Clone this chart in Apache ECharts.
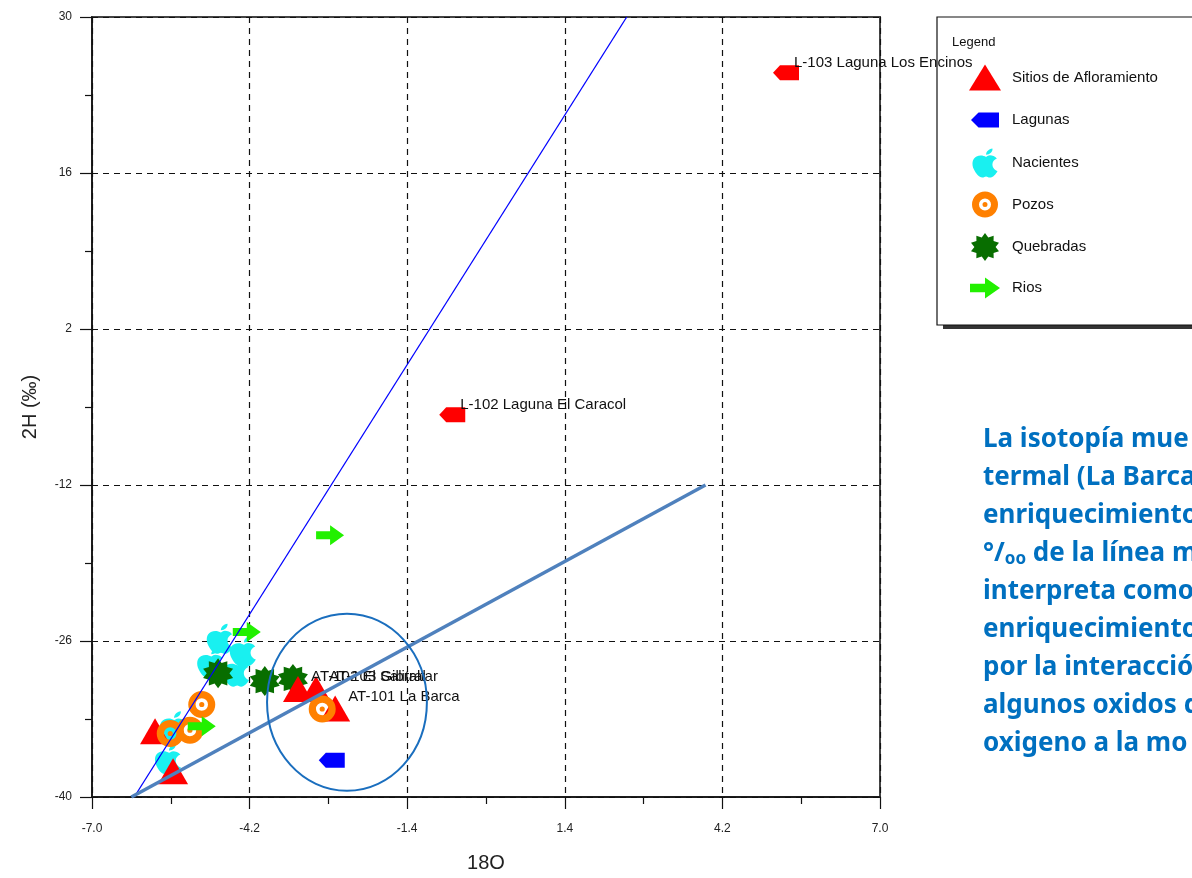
<!DOCTYPE html>
<html>
<head>
<meta charset="utf-8">
<script src="https://cdn.jsdelivr.net/npm/echarts@6/dist/echarts.min.js"></script>
<style>
  html, body { margin: 0; padding: 0; background: #ffffff; }
  #chart { width: 1192px; height: 878px; }
</style>
</head>
<body>
<div id="chart"></div>
<script>
// Isotope samples: [δ18O, δ2H]
const sitios = [[-5.88, -34.1], [-5.56, -37.7], [-3.34, -30.3], [-3.02, -30.3], [-2.68, -32.05]];
const sitiosNames = ['', '', 'AT-102 El Salitral', 'AT-103 Gibraltar', 'AT-101 La Barca'];

const lagunas = [[-2.74, -36.7], [-0.60, -5.7], [5.33, 25.0]];
const lagunasNames = ['', 'L-102 Laguna El Caracol', 'L-103 Laguna Los Encinos'];

const nacientes = [[-4.73, -25.8], [-4.32, -26.9], [-4.90, -27.95], [-4.44, -28.75], [-5.56, -33.66], [-5.65, -36.6]];
const pozos = [[-5.05, -31.7], [-5.61, -34.3], [-5.26, -34.0], [-2.91, -32.1]];
const quebradas = [[-4.76, -28.9], [-3.93, -29.6], [-3.43, -29.4]];
const rios = [[-4.25, -25.2], [-5.05, -33.66], [-2.77, -16.5]];

// Global meteoric water line and the evaporation / enrichment trend
const gmwl = [[-6.25, -40], [2.5, 30]];
const trendLine = [[-6.3, -40], [3.9, -12]];

// Highlighted group around La Barca: centre and half-axes in data units
const groupCenter = [-2.47, -31.5];
const groupRadii = [1.42, 7.95];

const xTicks = { min: -7, max: 7, step: 2.8 };
const yTicks = { min: -40, max: 30, step: 14 };

const legendNames = ['Sitios de Afloramiento', 'Lagunas', 'Nacientes', 'Pozos', 'Quebradas', 'Rios'];

const noteLines = [
  'La isotopía mue',
  'termal (La Barca',
  'enriquecimiento',
  '°/{s|oo} de la línea m',
  'interpreta como',
  'enriquecimiento',
  'por la interacció',
  'algunos oxidos d',
  'oxigeno a la mo'
];

// Marker shapes
function gearPath(n, ro, ri) {
  let d = '';
  for (let i = 0; i < 2 * n; i++) {
    const r = i % 2 ? ri : ro;
    const a = Math.PI * i / n - Math.PI / 2;
    d += (i ? 'L' : 'M') + (ro + r * Math.cos(a)).toFixed(2) + ',' + (ro + r * Math.sin(a)).toFixed(2) + ' ';
  }
  return 'path://' + d + 'Z';
}
const SYM_POND = 'path://M0,7 L7,0 L26,0 L26,14 L7,14 Z';
const SYM_APPLE = 'path://M12,8 C10,6.5 7,6 4.5,7.5 C1,9.5 0.5,15 2.5,20 C4,24 6.5,27.5 9,27.5 C10.5,27.5 11,26.5 12,26.5 C13,26.5 13.5,27.5 15,27.5 C17.5,27.5 19.5,24.5 21,21.5 C18,20 17,17.5 17,15 C17,12.5 18.5,10.5 20.5,9.5 C19,7.5 17,6.5 15,6.5 C14,6.5 13,7.5 12,8 Z M12,6 C12,3 14,0.5 17,0 C17.5,3 15,5.8 12,6 Z';
const SYM_WELL = 'path://M0,13 A13,13 0 1,1 26,13 A13,13 0 1,1 0,13 Z M7,13 A6,6 0 1,0 19,13 A6,6 0 1,0 7,13 Z M10.5,13 A2.5,2.5 0 1,1 15.5,13 A2.5,2.5 0 1,1 10.5,13 Z';
const SYM_STREAM = gearPath(10, 10, 7.2);
const SYM_RIVER = 'path://M0,6 L14,6 L14,0 L28,10 L14,20 L14,14 L0,14 Z';

const FONT = 'Liberation Sans, Arial, sans-serif';
const labelFont = { fontFamily: FONT, fontSize: 15, color: '#111' };

function toData(points, names, labelOffset, colors) {
  return points.map((p, i) => {
    const item = { value: p, name: (names && names[i]) || '' };
    if (names && names[i]) {
      item.label = Object.assign({ show: true, position: 'right', formatter: '{b}', offset: labelOffset }, labelFont);
    }
    if (colors && colors[i]) item.itemStyle = { color: colors[i] };
    return item;
  });
}

const chart = echarts.init(document.getElementById('chart'), null, { renderer: 'canvas' });

const axisCommon = {
  type: 'value',
  axisLine: { show: true, onZero: false, lineStyle: { color: '#111', width: 1.5 } },
  axisTick: { show: true, length: 12, lineStyle: { color: '#111', width: 1.2 } },
  minorTick: { show: true, splitNumber: 2, length: 7, lineStyle: { color: '#111', width: 1.2 } },
  splitLine: { show: true, lineStyle: { color: '#111', width: 1.2, type: [6, 5] } },
  minorSplitLine: { show: false },
  axisLabel: { fontFamily: FONT, fontSize: 12, color: '#222' },
  nameLocation: 'middle',
  nameTextStyle: { fontFamily: FONT, fontSize: 20, color: '#222' }
};

// Legend: one block per row, icon box sized to each marker's shape,
// icons centred on one column and labels starting on another
const legendIcon = [[32, 26], [28, 15], [25, 29], [26, 26], [28, 28], [30, 21]];
const legendNudge = [-2, 4, -1, -1, -1, 1];
const LEG_ICON_X = 985, LEG_ICON_Y = 80, LEG_PITCH = 42, LEG_TEXT_X = 1012;
const LEG_FONT = 15, LEG_PAD_BOTTOM = 12;
const legends = legendNames.map((name, i) => {
  const [w, h] = legendIcon[i];
  const cy = LEG_ICON_Y + i * LEG_PITCH;
  const left = LEG_ICON_X - w / 2;
  const textBoxH = LEG_FONT + LEG_PAD_BOTTOM;
  const top = Math.min(cy - h / 2, cy - textBoxH / 2) + legendNudge[i];
  return {
    orient: 'vertical', left: left, top: top, padding: 0,
    itemWidth: w, itemHeight: h, symbolKeepAspect: false,
    textStyle: { fontFamily: FONT, fontSize: LEG_FONT, color: '#111', padding: [0, 0, LEG_PAD_BOTTOM, LEG_TEXT_X - (left + w + 5)] },
    data: [name]
  };
});

const option = {
  animation: false,
  backgroundColor: '#ffffff',
  grid: { left: 92, top: 17, width: 788, height: 784, show: true, borderColor: '#444', borderWidth: 2, backgroundColor: 'transparent' },
  xAxis: Object.assign({}, axisCommon, {
    min: xTicks.min, max: xTicks.max, interval: xTicks.step,
    name: '18O', nameGap: 56,
    axisLabel: Object.assign({}, axisCommon.axisLabel, { margin: 26, formatter: v => v.toFixed(1) })
  }),
  yAxis: Object.assign({}, axisCommon, {
    min: yTicks.min, max: yTicks.max, interval: yTicks.step,
    name: '2H (‰)', nameGap: 52, nameRotate: 90,
    axisLabel: Object.assign({}, axisCommon.axisLabel, { margin: 20, formatter: v => String(Math.round(v)) })
  }),
  legend: legends,
  series: [
    { name: 'Nacientes', type: 'scatter', symbol: SYM_APPLE, symbolSize: [26, 30], itemStyle: { color: '#19F0F0', opacity: 1 }, data: toData(nacientes) },
    { name: 'Quebradas', type: 'scatter', symbol: SYM_STREAM, symbolSize: 30, itemStyle: { color: '#086E00', opacity: 1 }, data: toData(quebradas) },
    { name: 'Sitios de Afloramiento', type: 'scatter', symbol: 'triangle', symbolSize: [30, 26], itemStyle: { color: '#FF0000', opacity: 1 }, data: toData(sitios, sitiosNames, [-7, -12]) },
    { name: 'Pozos', type: 'scatter', symbol: SYM_WELL, symbolSize: 27, itemStyle: { color: '#FF8000', opacity: 1 }, data: toData(pozos) },
    { name: 'Rios', type: 'scatter', symbol: SYM_RIVER, symbolSize: [28, 20], itemStyle: { color: '#22F000', opacity: 1 }, data: toData(rios) },
    { name: 'Lagunas', type: 'scatter', symbol: SYM_POND, symbolSize: [26, 15], itemStyle: { color: '#0000FF', opacity: 1 },
      data: toData(lagunas, lagunasNames, [-10, -10], [null, '#FF0000', '#FF0000']) },
    { name: 'GMWL', type: 'line', data: gmwl, symbol: 'none', silent: true, z: 5, lineStyle: { color: '#0000FF', width: 1.3 } },
    { name: 'Tendencia', type: 'line', data: trendLine, symbol: 'none', silent: true, z: 5, lineStyle: { color: '#4F81BD', width: 3.5 } }
  ]
};

chart.setOption(option);

// Annotation overlays: legend frame, group ellipse and the note on the right
const c = chart.convertToPixel({ gridIndex: 0 }, groupCenter);
const ex = chart.convertToPixel({ gridIndex: 0 }, [groupCenter[0] + groupRadii[0], groupCenter[1]]);
const ey = chart.convertToPixel({ gridIndex: 0 }, [groupCenter[0], groupCenter[1] + groupRadii[1]]);

const graphics = [
  { type: 'rect', z: 0, shape: { x: 943, y: 21, width: 300, height: 308 }, style: { fill: '#333' } },
  { type: 'rect', z: 0, shape: { x: 937, y: 17, width: 300, height: 308 }, style: { fill: '#ffffff', stroke: '#111', lineWidth: 1.2 } },
  { type: 'text', z: 1, x: 952, y: 42, style: { text: 'Legend', fontFamily: FONT, fontSize: 13, fill: '#111', verticalAlign: 'middle' } },
  { type: 'ellipse', z: 100, shape: { cx: c[0], cy: c[1], rx: Math.abs(ex[0] - c[0]), ry: Math.abs(ey[1] - c[1]) },
    style: { fill: 'none', stroke: '#1A6EBE', lineWidth: 2 } }
];
noteLines.forEach((t, i) => {
  graphics.push({
    type: 'text', z: 1, x: 983, y: 440 + i * 38,
    style: {
      text: t, fontFamily: 'Noto Sans, Open Sans, sans-serif', fontWeight: 'bold', fontSize: 26,
      fill: '#0070C0', verticalAlign: 'middle',
      rich: { s: { fontFamily: 'Noto Sans, Open Sans, sans-serif', fontWeight: 'bold', fontSize: 17, fill: '#0070C0', verticalAlign: 'bottom', padding: [10, 0, 0, 0] } }
    }
  });
});
chart.setOption({ graphic: graphics });
</script>
</body>
</html>
